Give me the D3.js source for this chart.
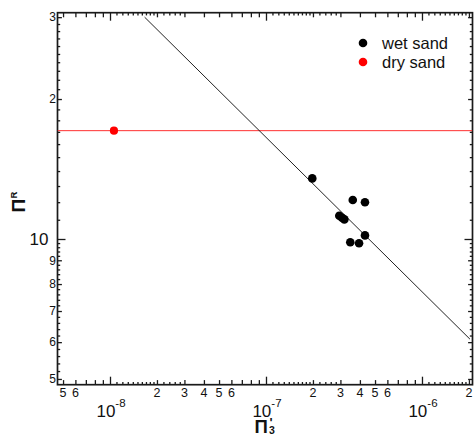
<!DOCTYPE html>
<html><head><meta charset="utf-8">
<script src="https://cdn.jsdelivr.net/npm/d3@7"></script>
<style>body{margin:0;background:#fff} svg{display:block} text{font-family:"Liberation Sans",Arial,Helvetica,sans-serif;fill:#111}</style>
</head><body><svg id="c" width="476" height="435"></svg>
<script>
// ---- data ----
const wetX = [1.98e-7, 2.95e-7, 3.07e-7, 3.18e-7, 3.47e-7, 3.6e-7, 3.95e-7, 4.31e-7, 4.31e-7];
const wetY = [13.5, 11.22, 11.11, 11.02, 9.84, 12.13, 9.79, 12.0, 10.18];
const dryX = [1.06e-8];
const dryY = [17.1];
const dryLineY = [17.1];
const fitX = [1.667e-8, 2.03e-6];
const fitY = [30.0, 6.09];
const xMajorTicks = [1e-8, 1e-7, 1e-6];
const xMajorExp = ["-8", "-7", "-6"];
const xMinorLabelValues = [5e-9, 6e-9, 2e-8, 3e-8, 4e-8, 5e-8, 6e-8, 2e-7, 3e-7, 4e-7, 5e-7, 6e-7, 2e-6];
const xMinorLabels = ["5", "6", "2", "3", "4", "5", "6", "2", "3", "4", "5", "6", "2"];
const yMajorTicks = [10];
const yMajorLabels = ["10"];
const yMinorLabelValues = [30, 20, 9, 8, 7, 6, 5];
const yMinorLabels = ["3", "2", "9", "8", "7", "6", "5"];
const legendLabels = ["wet sand", "dry sand"];
const legendColors = ["#000000", "#ff0000"];

// ---- layout ----
const L = 57.5, R = 472.5, T = 12.7, B = 384.7;
const svg = d3.select("#c");
const x = d3.scaleLog().domain([4.607e-9, 2.108e-6]).range([L, R]);
const y = d3.scaleLog().domain([4.86, 30.67]).range([B, T]);

// tick value sets (axis structure)
const xMed = [], xSmall = [];
[1e-9, 1e-8, 1e-7, 1e-6].forEach(d => {
  for (let m = 2; m <= 9; m++) xMed.push(m * d);
  for (let m = 11; m <= 19; m++) xSmall.push(m / 10 * d);
  [2.2, 2.4, 2.6, 2.8].forEach(m => xSmall.push(m * d));
});
const inX = v => v >= x.domain()[0] && v <= x.domain()[1];
const yMed = [5, 6, 7, 8, 9, 20, 30], ySmall = [];
for (let m = 5; m < 10; m++) [0.2, 0.4, 0.6, 0.8].forEach(f => ySmall.push(m + f));
for (let m = 11; m <= 29; m++) if (m !== 20) ySmall.push(m);
const inY = v => v >= y.domain()[0] && v <= y.domain()[1];

function ticks(gen, vals, len, tr) {
  const g = svg.append("g").attr("transform", tr)
    .call(gen.tickValues(vals).tickSize(len).tickFormat(""));
  g.select(".domain").remove();
  g.selectAll(".tick line").attr("stroke", "#1a1a1a").attr("stroke-width", 1.3);
}
const sets = [[xMajorTicks, 8], [xMed.filter(inX), 4.6], [xSmall.filter(inX), 2.7]];
sets.forEach(([v, l]) => {
  ticks(d3.axisBottom(x), v, -l, `translate(0,${B})`);
  ticks(d3.axisTop(x), v, -l, `translate(0,${T})`);
});
const ysets = [[yMajorTicks, 8], [yMed.filter(inY), 4.4], [ySmall.filter(inY), 2.7]];
ysets.forEach(([v, l]) => {
  ticks(d3.axisLeft(y), v, -l, `translate(${L},0)`);
  ticks(d3.axisRight(y), v, -l, `translate(${R},0)`);
});

// frame
svg.append("rect").attr("x", L).attr("y", T).attr("width", R - L).attr("height", B - T)
  .attr("fill", "none").attr("stroke", "#1a1a1a").attr("stroke-width", 1.7);

// tick labels
svg.append("g").selectAll("text").data(xMinorLabelValues).join("text")
  .attr("x", d => x(d)).attr("y", 396.5).attr("text-anchor", "middle")
  .attr("font-size", 12.5).text((d, i) => xMinorLabels[i]);
const xm = svg.append("g").selectAll("text").data(xMajorTicks).join("text")
  .attr("x", d => x(d) + 1).attr("y", 416.5).attr("text-anchor", "middle").attr("font-size", 17);
xm.append("tspan").text("10");
xm.append("tspan").attr("font-size", 11.5).attr("dy", -10).text((d, i) => xMajorExp[i]);

svg.append("g").selectAll("text").data(yMinorLabelValues).join("text")
  .attr("x", 56).attr("y", d => y(d) + 4.3).attr("text-anchor", "end")
  .attr("font-size", 12).text((d, i) => yMinorLabels[i]);
svg.append("g").selectAll("text").data(yMajorTicks).join("text")
  .attr("x", 48.5).attr("y", d => y(d) + 6).attr("text-anchor", "end")
  .attr("font-size", 17).text((d, i) => yMajorLabels[i]);

// axis titles
svg.append("text").attr("x", 254.5).attr("y", 432.5).attr("font-size", 18.5).attr("font-weight", "bold").text("Π");
svg.append("text").attr("x", 269.5).attr("y", 426.5).attr("font-size", 13).attr("font-weight", "bold").text("'");
svg.append("text").attr("x", 269).attr("y", 433.5).attr("font-size", 10.5).attr("font-weight", "bold").text("3");
const yt = svg.append("g").attr("transform", "translate(25,212.5) rotate(-90)");
yt.append("text").attr("x", 0).attr("y", 0).attr("font-size", 19).attr("font-weight", "bold").text("Π");
yt.append("text").attr("x", 14).attr("y", -7.7).attr("font-size", 9.5).attr("font-weight", "bold").text("R");

// data marks
svg.append("clipPath").attr("id", "pc").append("rect")
  .attr("x", L).attr("y", T).attr("width", R - L).attr("height", B - T);
svg.append("line").attr("clip-path", "url(#pc)")
  .attr("x1", L).attr("x2", R).attr("y1", y(dryLineY[0])).attr("y2", y(dryLineY[0]))
  .attr("stroke", "#ff3030").attr("stroke-width", 1);
svg.append("path").attr("clip-path", "url(#pc)")
  .attr("d", d3.line().x(d => x(d[0])).y(d => y(d[1]))(fitX.map((v, i) => [v, fitY[i]])))
  .attr("fill", "none").attr("stroke", "#222").attr("stroke-width", 1);
svg.append("g").selectAll("circle").data(wetX).join("circle")
  .attr("cx", d => x(d)).attr("cy", (d, i) => y(wetY[i])).attr("r", 4.3).attr("fill", "#000");
svg.append("g").selectAll("circle").data(dryX).join("circle")
  .attr("cx", d => x(d)).attr("cy", (d, i) => y(dryY[i])).attr("r", 4.1).attr("fill", "#ff0000");

// legend
const lg = svg.append("g").selectAll("g").data(legendLabels).join("g")
  .attr("transform", (d, i) => `translate(363,${43 + i * 19})`);
lg.append("circle").attr("r", 4.3).attr("fill", (d, i) => legendColors[i]);
lg.append("text").attr("x", 19).attr("y", 5.5).attr("font-size", 16.5).text(d => d);
</script></body></html>
